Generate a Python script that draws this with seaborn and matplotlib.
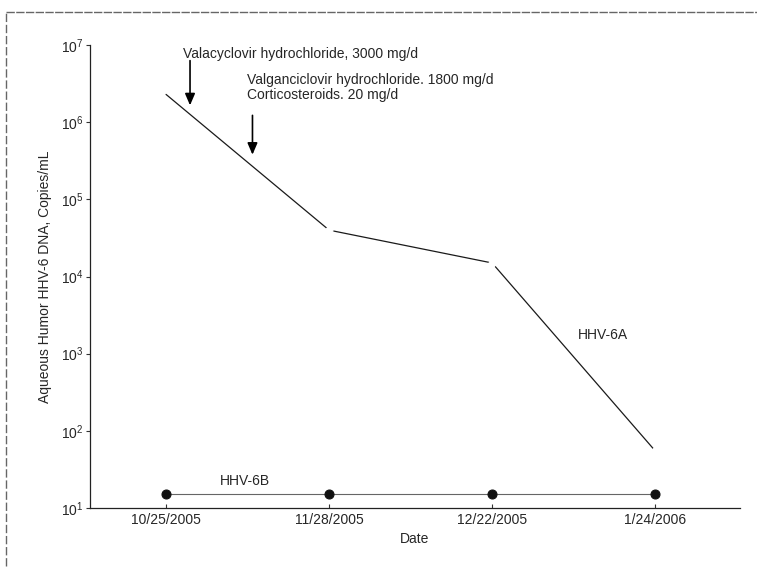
import matplotlib
matplotlib.use("Agg")
import matplotlib.pyplot as plt
import matplotlib.ticker as mticker
from matplotlib.lines import Line2D
from matplotlib.patches import FancyArrowPatch
import seaborn as sns
import pandas as pd

dates = ["10/25/2005", "11/28/2005", "12/22/2005", "1/24/2006"]
hhv6a = [2.3e6, 4.0e4, 1.5e4, 55]
hhv6b = [15, 15, 15, 15]

sns.set_style("ticks")
plt.rcParams['font.family'] = ['Liberation Sans', 'DejaVu Sans']

pos = list(range(len(dates)))
df = pd.DataFrame({"pos": pos, "A": hhv6a, "B": hhv6b})

fig = plt.figure(figsize=(7.57, 5.72), dpi=100)
ax = fig.add_axes([0.119, 0.112, 0.8585, 0.809])

sns.lineplot(data=df, x="pos", y="A", ax=ax, color="#1a1a1a", linewidth=0.9,
             marker="o", markersize=5, markerfacecolor="white",
             markeredgecolor="white", markevery=[1, 2, 3])
sns.lineplot(data=df, x="pos", y="B", ax=ax, color="#666666", linewidth=0.8,
             marker="o", markersize=6.5, markerfacecolor="#111111",
             markeredgecolor="#111111")

ax.set_yscale("log")
ax.set_ylim(10, 1e7)
ax.set_xlim(-0.466, 3.52)
ax.set_xticks(pos)
ax.set_xticklabels(dates, fontsize=10)
ax.yaxis.set_major_locator(mticker.LogLocator(base=10, numticks=10))
ax.yaxis.set_minor_locator(mticker.NullLocator())
ax.yaxis.set_major_formatter(mticker.LogFormatterSciNotation())
ax.tick_params(axis="y", labelsize=10, length=3, width=0.8, color="#333333", pad=2)
ax.tick_params(axis="x", length=3, width=0.8, direction="in", color="#333333")
for s in ["top", "right"]:
    ax.spines[s].set_visible(False)
for s in ["left", "bottom"]:
    ax.spines[s].set_linewidth(0.9)
    ax.spines[s].set_color("#222222")

ax.set_xlabel("Date", fontsize=10, labelpad=4)
ax.set_ylabel("Aqueous Humor HHV-6 DNA, Copies/mL", fontsize=10, labelpad=6)

style = "-|>,head_length=7,head_width=3"
for (x0, y0, y1) in [(0.147, 10**6.80, 10**6.22), (0.53, 10**6.09, 10**5.58)]:
    ax.add_patch(FancyArrowPatch((x0, y0), (x0, y1), arrowstyle=style,
                                 color="black", lw=1.2, shrinkA=0, shrinkB=0))
ax.text(0.105, 10**6.88, "Valacyclovir hydrochloride, 3000 mg/d", fontsize=10,
        ha="left", va="center")
ax.text(0.497, 10**6.45, "Valganciclovir hydrochloride. 1800 mg/d\nCorticosteroids. 20 mg/d",
        fontsize=10, ha="left", va="center", linespacing=1.1)
ax.text(2.68, 10**3.24, "HHV-6A", fontsize=10, ha="center", va="center")
ax.text(0.485, 10**1.35, "HHV-6B", fontsize=10, ha="center", va="center")

fig.add_artist(Line2D([6/757, 1.0], [1 - 12/572, 1 - 12/572], transform=fig.transFigure,
                      color="#666666", lw=1.0, linestyle=(0, (6, 1))))
fig.add_artist(Line2D([6/757, 6/757], [0.01, 1 - 12/572], transform=fig.transFigure,
                      color="#666666", lw=1.0, linestyle=(0, (6, 2))))

fig.savefig("out.png", dpi=100)
